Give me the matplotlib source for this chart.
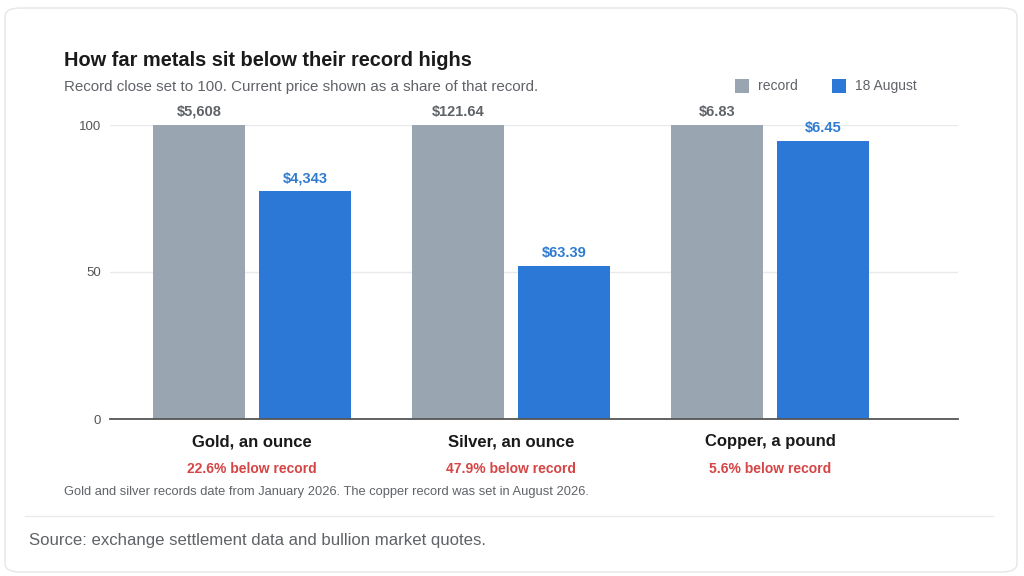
import matplotlib
matplotlib.use("Agg")
import matplotlib.pyplot as plt
from matplotlib.patches import FancyBboxPatch
from matplotlib.lines import Line2D
import numpy as np

plt.rcParams['font.family'] = ['Liberation Sans', 'DejaVu Sans']

# ---- data ----
categories = ["Gold, an ounce", "Silver, an ounce", "Copper, a pound"]
record_index = [100, 100, 100]
current_index = [77.4, 52.1, 94.4]
record_labels = ["$5,608", "$121.64", "$6.83"]
current_labels = ["$4,343", "$63.39", "$6.45"]
below_labels = ["22.6% below record", "47.9% below record", "5.6% below record"]
series_names = ["record", "18 August"]
yticks = [0, 50, 100]

W, H = 1024, 576
fig = plt.figure(figsize=(W / 100, H / 100), dpi=100)
fig.patch.set_facecolor("white")

def fx(x):
    return x / W

def fy(y):
    return 1 - y / H

# card background
card = FancyBboxPatch((fx(5), fy(572)), fx(1012), (567 - 3) / H,
                      boxstyle="round,pad=0,rounding_size=0.015",
                      transform=fig.transFigure, facecolor="white",
                      edgecolor="#e6e6e6", linewidth=1.0, zorder=-5)
fig.patches.append(card)

# axes
ax = fig.add_axes([fx(110), fy(419), fx(958 - 110), (419 - 125) / H])
ax.set_zorder(3)
ax.set_facecolor("none")
x = np.arange(len(categories))
off = 0.2046
bw = 0.355
c_rec = "#9aa5b2"
c_cur = "#2b78d6"
b1 = ax.bar(x - off, record_index, bw, color=c_rec, zorder=3)
b2 = ax.bar(x + off, current_index, bw, color=c_cur, zorder=3)
ax.set_xlim(-0.548, 2.726)
ax.set_ylim(0, 100)
ax.set_yticks(yticks)
ax.set_yticklabels([str(t) for t in yticks], fontsize=9.5, color="#555555")
ax.tick_params(axis="y", length=0, pad=6.5)
ax.set_xticks([])
for s in ["top", "right", "left"]:
    ax.spines[s].set_visible(False)
ax.spines["bottom"].set_color("#555555")
ax.spines["bottom"].set_linewidth(1.3)
ax.spines["bottom"].set_zorder(4)
for t in yticks[1:]:
    ax.axhline(t, color="#e8eaed", linewidth=1.0, zorder=1)

for rect, lab in zip(b1, record_labels):
    ax.annotate(lab, (rect.get_x() + rect.get_width() / 2, rect.get_height()),
                xytext=(0, 4.5), textcoords="offset points", ha="center", va="bottom",
                fontsize=10.5, fontweight="bold", color="#5f6368", annotation_clip=False)
for rect, lab in zip(b2, current_labels):
    ax.annotate(lab, (rect.get_x() + rect.get_width() / 2, rect.get_height()),
                xytext=(0, 4.5), textcoords="offset points", ha="center", va="bottom",
                fontsize=10.5, fontweight="bold", color="#2f7bd0", annotation_clip=False)

trans = ax.get_xaxis_transform()
for xi, cat, bl in zip(x, categories, below_labels):
    ax.text(xi, -0.0782, cat, transform=trans, ha="center", va="center",
            fontsize=12, fontweight="bold", color="#1a1a1a")
    ax.text(xi, -0.170, bl, transform=trans, ha="center", va="center",
            fontsize=10, fontweight="bold", color="#d64545")

# titles
fig.text(fx(64), fy(61), "How far metals sit below their record highs",
         ha="left", va="center", fontsize=14.4, fontweight="bold", color="#1a1a1a")
fig.text(fx(64), fy(87), "Record close set to 100. Current price shown as a share of that record.",
         ha="left", va="center", fontsize=10.9, color="#5f6368")

# legend
leg_items = [(735, c_rec, series_names[0]), (832, c_cur, series_names[1])]
for lx, col, name in leg_items:
    sq = FancyBboxPatch((fx(lx), fy(93)), fx(14), 14 / H, boxstyle="square,pad=0",
                        transform=fig.transFigure, facecolor=col, edgecolor="none")
    fig.patches.append(sq)
    fig.text(fx(lx + 23), fy(86), name, ha="left", va="center",
             fontsize=10, color="#5f6368")

# footnote
fig.text(fx(64), fy(492), "Gold and silver records date from January 2026. The copper record was set in August 2026.",
         ha="left", va="center", fontsize=9.25, color="#5f6368")

# separator
fig.add_artist(Line2D([fx(25), fx(993)], [fy(516), fy(516)], transform=fig.transFigure,
                      color="#ebebeb", linewidth=1.0))

fig.text(fx(29), fy(541), "Source: exchange settlement data and bullion market quotes.",
         ha="left", va="center", fontsize=12.1, color="#5f6368")

fig.savefig("out.png", dpi=100, facecolor="white")
